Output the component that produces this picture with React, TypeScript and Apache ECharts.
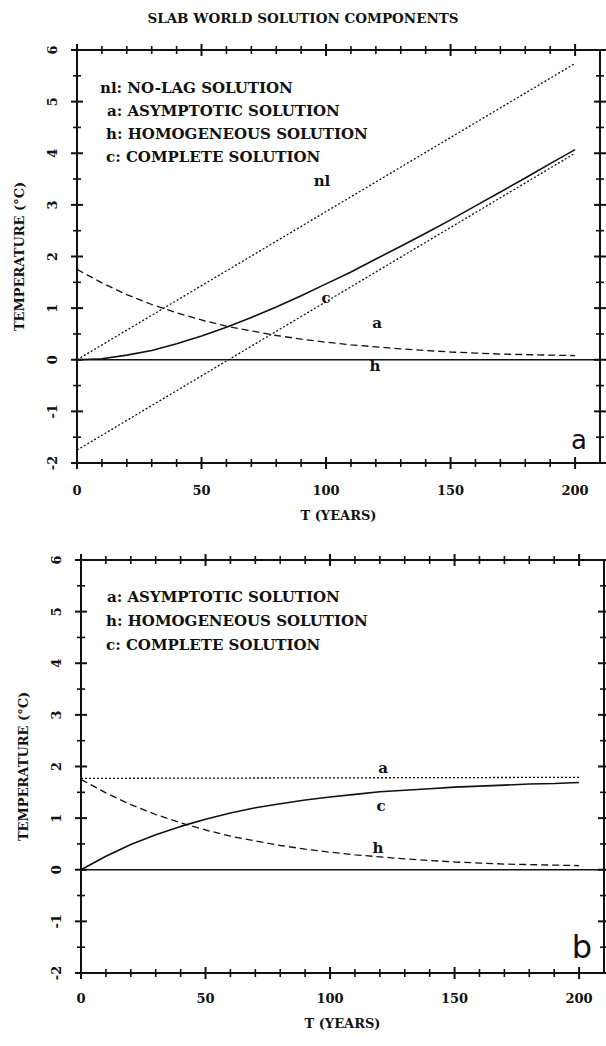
import React, { useEffect, useRef } from "react";
import * as echarts from "echarts";

// ---------- data ----------
const years = [0, 10, 20, 30, 40, 50, 60, 70, 80, 90, 100, 110, 120, 130, 140, 150, 160, 170, 180, 190, 200];
const lineEnds = [0, 200];

// panel a
const topNoLag = [0, 5.74];
const topAsymptotic = [-1.75, 4.0];
const topHomogeneous = [1.75, 1.49, 1.26, 1.07, 0.91, 0.77, 0.65, 0.56, 0.47, 0.4, 0.34, 0.29, 0.25, 0.21, 0.18, 0.15, 0.13, 0.11, 0.1, 0.09, 0.08];
const topComplete = [0, 0.02, 0.09, 0.18, 0.31, 0.46, 0.63, 0.82, 1.02, 1.24, 1.47, 1.7, 1.95, 2.2, 2.45, 2.71, 2.98, 3.25, 3.52, 3.8, 4.07];

// panel b
const bottomAsymptotic = [1.77, 1.79];
const bottomHomogeneous = [1.75, 1.49, 1.26, 1.07, 0.91, 0.77, 0.65, 0.56, 0.47, 0.4, 0.34, 0.29, 0.25, 0.21, 0.18, 0.15, 0.13, 0.11, 0.1, 0.09, 0.08];
const bottomComplete = [0, 0.26, 0.49, 0.68, 0.84, 0.98, 1.1, 1.2, 1.28, 1.35, 1.41, 1.46, 1.51, 1.54, 1.57, 1.6, 1.62, 1.64, 1.66, 1.67, 1.69];

const zeroLineX = [0, 210];
const zeroLineY = [0, 0];

// axes
const xMin = 0;
const xMax = 210;
const xMajor = [0, 50, 100, 150, 200];
const xMinor = [10, 20, 30, 40, 60, 70, 80, 90, 110, 120, 130, 140, 160, 170, 180, 190];
const yMin = -2;
const yMax = 6;
const yMajor = [-2, -1, 0, 1, 2, 3, 4, 5, 6];
const yMinor = [-1.5, -0.5, 0.5, 1.5, 2.5, 3.5, 4.5, 5.5];

const titleText = "SLAB WORLD SOLUTION COMPONENTS";
const xName = "T (YEARS)";
const yName = "TEMPERATURE (°C)";
const topLegend = ["nl: NO-LAG SOLUTION", "a: ASYMPTOTIC SOLUTION", "h: HOMOGENEOUS SOLUTION", "c: COMPLETE SOLUTION"];
const bottomLegend = ["a: ASYMPTOTIC SOLUTION", "h: HOMOGENEOUS SOLUTION", "c: COMPLETE SOLUTION"];

const SERIF = "'DejaVu Serif', 'Liberation Serif', serif";
const BLACK = "#111";

function zip(xs: number[], ys: number[]) {
  return xs.map((x, i) => [x, ys[i]]);
}

const lineOn = { show: true, onZero: false, lineStyle: { color: BLACK, width: 2 } };
const labelFont = { color: BLACK, fontFamily: SERIF, fontWeight: "bold", fontSize: 13 };

function xAxesFor(gi: number, labelMargin: number, nameGap: number) {
  const base = { type: "value", gridIndex: gi, min: xMin, max: xMax, splitLine: { show: false } };
  return [
    {
      ...base,
      position: "bottom",
      axisLine: lineOn,
      axisTick: { show: false },
      axisLabel: { customValues: xMajor, margin: labelMargin, ...labelFont },
      name: xName,
      nameLocation: "middle",
      nameGap,
      nameTextStyle: labelFont,
    },
    { ...base, position: "top", axisLine: lineOn, axisTick: { show: false }, axisLabel: { show: false } },
  ];
}

function yAxesFor(gi: number) {
  const base = { type: "value", gridIndex: gi, min: yMin, max: yMax, splitLine: { show: false } };
  return [
    {
      ...base,
      position: "left",
      axisLine: lineOn,
      axisTick: { show: false },
      axisLabel: { customValues: yMajor, rotate: 90, margin: 18, ...labelFont },
      name: yName,
      nameLocation: "middle",
      nameGap: 51,
      nameTextStyle: labelFont,
    },
    { ...base, position: "right", axisLine: lineOn, axisTick: { show: false }, axisLabel: { show: false } },
  ];
}

function lineSeries(name: string, data: number[][], axisIdx: number, type: any, width: number) {
  return {
    name,
    type: "line",
    xAxisIndex: axisIdx,
    yAxisIndex: axisIdx,
    data,
    showSymbol: false,
    symbol: "none",
    smooth: false,
    lineStyle: { color: BLACK, width, type },
    z: 3,
  };
}

// frame ticks: [value, side (0 bottom, 1 top, 2 left, 3 right), half length]
const tickData: number[][] = [];
[0, 1].forEach((side) => {
  xMajor.forEach((v) => tickData.push([v, side, 6]));
  xMinor.forEach((v) => tickData.push([v, side, 4]));
});
[2, 3].forEach((side) => {
  yMajor.forEach((v) => tickData.push([v, side, 6]));
  yMinor.forEach((v) => tickData.push([v, side, 4]));
});

function tickSeries(axisIdx: number) {
  return {
    type: "custom",
    xAxisIndex: axisIdx,
    yAxisIndex: axisIdx,
    clip: false,
    z: 6,
    data: tickData,
    renderItem: (params: any, api: any) => {
      const v = api.value(0);
      const side = api.value(1);
      const h = api.value(2);
      const style = { stroke: BLACK, lineWidth: h > 5 ? 2 : 1.6, fill: null };
      if (side === 0 || side === 1) {
        const p = api.coord([v, side === 0 ? yMin : yMax]);
        return { type: "line", shape: { x1: p[0], y1: p[1] - h, x2: p[0], y2: p[1] + h }, style };
      }
      const p = api.coord([side === 2 ? xMin : xMax, v]);
      return { type: "line", shape: { x1: p[0] - h, y1: p[1], x2: p[0] + h, y2: p[1] }, style };
    },
  };
}

function txt(text: string, x: number, y: number, size: number, opts: any = {}) {
  return {
    type: "text",
    x,
    y,
    z: 10,
    style: {
      text,
      fill: BLACK,
      font: `${opts.weight || "bold"} ${size}px ${opts.family || SERIF}`,
      textAlign: opts.align || "left",
      textVerticalAlign: "middle",
    },
  };
}

export default function App() {
  const ref = useRef<HTMLDivElement>(null);
  useEffect(() => {
    if (!ref.current) return;
    const chart = echarts.init(ref.current, null, { renderer: "svg" });
    const dotted = [2, 2];
    const dashed = [7, 4];
    const texts = [
      txt(topLegend[0], 100, 88, 15),
      txt(topLegend[1], 107, 111, 15),
      txt(topLegend[2], 106, 134, 15),
      txt(topLegend[3], 106, 157, 15),
      txt(bottomLegend[0], 107, 597, 15),
      txt(bottomLegend[1], 106, 621, 15),
      txt(bottomLegend[2], 106, 645, 15),
      txt("nl", 322, 181, 15, { align: "center" }),
      txt("c", 326, 298, 15, { align: "center" }),
      txt("a", 377, 323, 15, { align: "center" }),
      txt("h", 375, 366, 15, { align: "center" }),
      txt("a", 383, 768, 15, { align: "center" }),
      txt("c", 381, 806, 15, { align: "center" }),
      txt("h", 378, 848, 15, { align: "center" }),
      txt("a", 579, 440, 26, { align: "center", weight: "normal", family: "'DejaVu Sans', sans-serif" }),
      txt("b", 582, 947, 32, { align: "center", weight: "normal", family: "'DejaVu Sans', sans-serif" }),
    ];
    const option: any = {
      animation: false,
      backgroundColor: "#fff",
      title: {
        text: titleText,
        left: "center",
        top: 6,
        textStyle: { color: BLACK, fontFamily: SERIF, fontWeight: "bold", fontSize: 13.5 },
      },
      grid: [
        { left: 77, top: 50, width: 523, height: 413 },
        { left: 81, top: 560, width: 523, height: 413 },
      ],
      xAxis: [...xAxesFor(0, 21, 46), ...xAxesFor(1, 19, 44)],
      yAxis: [...yAxesFor(0), ...yAxesFor(1)],
      series: [
        lineSeries("zero-a", zip(zeroLineX, zeroLineY), 0, "solid", 1.6),
        lineSeries("nl", zip(lineEnds, topNoLag), 0, dotted, 1.3),
        lineSeries("a", zip(lineEnds, topAsymptotic), 0, dotted, 1.3),
        lineSeries("h", zip(years, topHomogeneous), 0, dashed, 1.3),
        lineSeries("c", zip(years, topComplete), 0, "solid", 1.6),
        lineSeries("zero-b", zip(zeroLineX, zeroLineY), 2, "solid", 1.6),
        lineSeries("a", zip(lineEnds, bottomAsymptotic), 2, dotted, 1.3),
        lineSeries("h", zip(years, bottomHomogeneous), 2, dashed, 1.3),
        lineSeries("c", zip(years, bottomComplete), 2, "solid", 1.6),
        tickSeries(0),
        tickSeries(2),
      ],
      graphic: texts,
    };
    chart.setOption(option);
    return () => chart.dispose();
  }, []);
  return (
    <div
      ref={ref}
      style={{ position: "absolute", left: 0, top: 0, width: 606, height: 1046, background: "#fff" }}
    />
  );
}
